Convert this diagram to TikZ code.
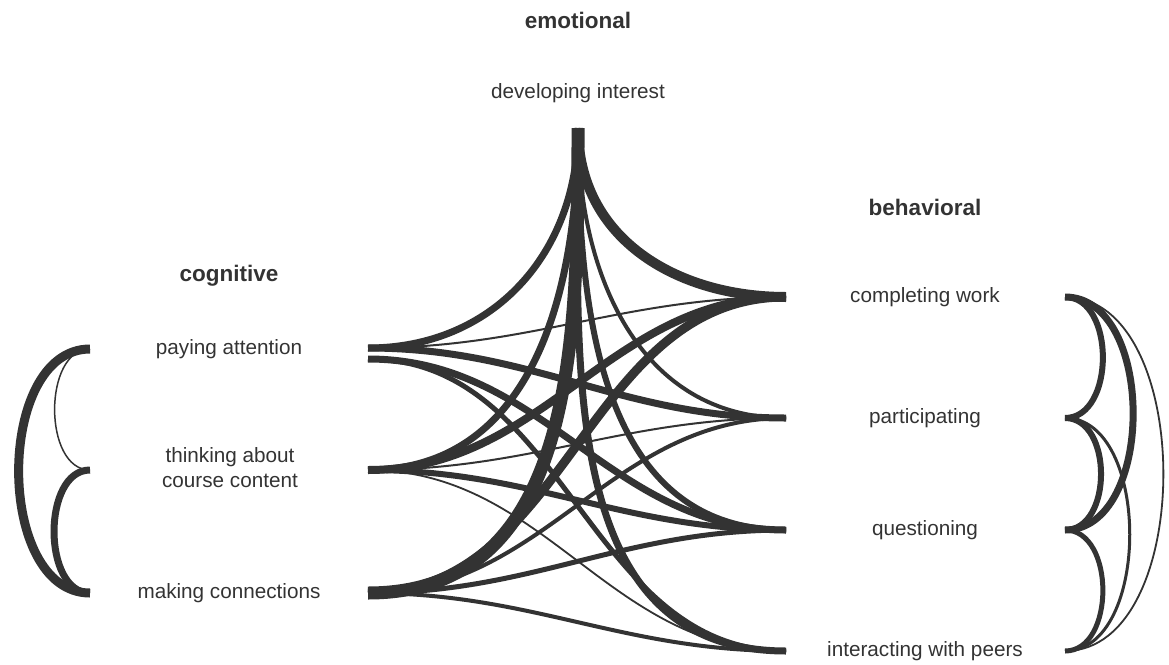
\documentclass[tikz,border=0pt]{standalone}
\usepackage{fontspec}
\setmainfont{Liberation Sans}
\usepackage{xcolor}
\definecolor{ink}{HTML}{333333}
\tikzset{
  band/.style={draw=ink, line cap=butt},
  lr/.style={band, out=0, in=180},
  em/.style={band, out=-90, looseness=1.05},
  lab/.style={text=ink, font=\fontsize{20.7}{25}\selectfont, align=center},
  head/.style={text=ink, font=\fontsize{22.5}{26}\selectfont\bfseries},
}

\begin{document}
\begin{tikzpicture}[x=1pt, y=-1pt]
  \useasboundingbox (0,0) rectangle (1169,664);

  \node[head] (emoH) at (578,20) {emotional};
  \node[head] (cogH) at (229,276) {cognitive};
  \node[head] (behH) at (925,207) {behavioral};

  \node[lab] (interest) at (578,93) {developing interest};
  \node[lab] (attention) at (229,349) {paying attention};
  \node[lab] (thinking) at (230,468) {thinking about\\course content};
  \node[lab] (connect) at (229,593) {making connections};
  \node[lab] (work) at (925,297) {completing work};
  \node[lab] (partic) at (925,418) {participating};
  \node[lab] (quest) at (925,530) {questioning};
  \node[lab] (peers) at (925,651) {interacting with peers};

  % hub ends of the bands
  \coordinate (E) at (578,128);
  \coordinate (PA) at (368,348);
  \coordinate (PAb) at (368,359);
  \coordinate (TC) at (368,470);
  \coordinate (MC) at (368,593);
  \coordinate (CW) at (786,297);
  \coordinate (PT) at (786,418);
  \coordinate (QU) at (786,530);
  \coordinate (IP) at (786,651);

  % emotional to the others
  \draw[em, line width=7pt] (E) to[in=0] (PA);
  \draw[em, line width=7pt] (E) to[in=0] (TC);
  \draw[em, line width=13pt] (E) to[in=0] (MC);
  \draw[em, line width=10pt] (E) to[in=180] (CW);
  \draw[em, line width=4pt] (E) to[in=180] (PT);
  \draw[em, line width=6pt] (E) to[in=180] (QU);
  \draw[em, line width=7pt] (E) to[in=180] (IP);

  % cognitive to behavioral
  \draw[lr, line width=2pt] (PA) to (CW);
  \draw[lr, line width=7pt] (PA) to (PT);
  \draw[lr, line width=7pt] (PAb) to (QU);
  \draw[lr, line width=5pt] (PAb) to (IP);
  \draw[lr, line width=8pt] (TC) to (CW);
  \draw[lr, line width=2pt] (TC) to (PT);
  \draw[lr, line width=6pt] (TC) to (QU);
  \draw[lr, line width=1.8pt] (TC) to (IP);
  \draw[lr, line width=9pt] (MC) to (CW);
  \draw[lr, line width=4pt] (MC) to (PT);
  \draw[lr, line width=5pt] (MC) to (QU);
  \draw[lr, line width=4pt] (MC) to (IP);

  % brackets within cognitive
  \coordinate (cPA) at (90,349);
  \coordinate (cTC) at (90,470);
  \coordinate (cMC) at (90,593);
  \draw[band, line width=9pt] (cPA) to[out=180, in=180] (cMC);
  \draw[band, line width=1.5pt] (cPA) to[out=180, in=180] (cTC);
  \draw[band, line width=7pt] (cTC) to[out=180, in=180] (cMC);

  % brackets within behavioral
  \coordinate (bCW) at (1065,297);
  \coordinate (bPT) at (1065,418);
  \coordinate (bQU) at (1065,530);
  \coordinate (bIP) at (1065,651);
  \draw[band, line width=6pt] (bCW) to[out=0, in=0, looseness=1.07] (bPT);
  \draw[band, line width=7pt] (bCW) to[out=0, in=0] (bQU);
  \draw[band, line width=1.8pt] (bCW) to[out=0, in=0, looseness=0.95] (bIP);
  \draw[band, line width=6pt] (bPT) to[out=0, in=0, looseness=1.1] (bQU);
  \draw[band, line width=3pt] (bPT) to[out=0, in=0, looseness=0.95] (bIP);
  \draw[band, line width=5pt] (bQU) to[out=0, in=0, looseness=1.07] (bIP);
\end{tikzpicture}
\end{document}
